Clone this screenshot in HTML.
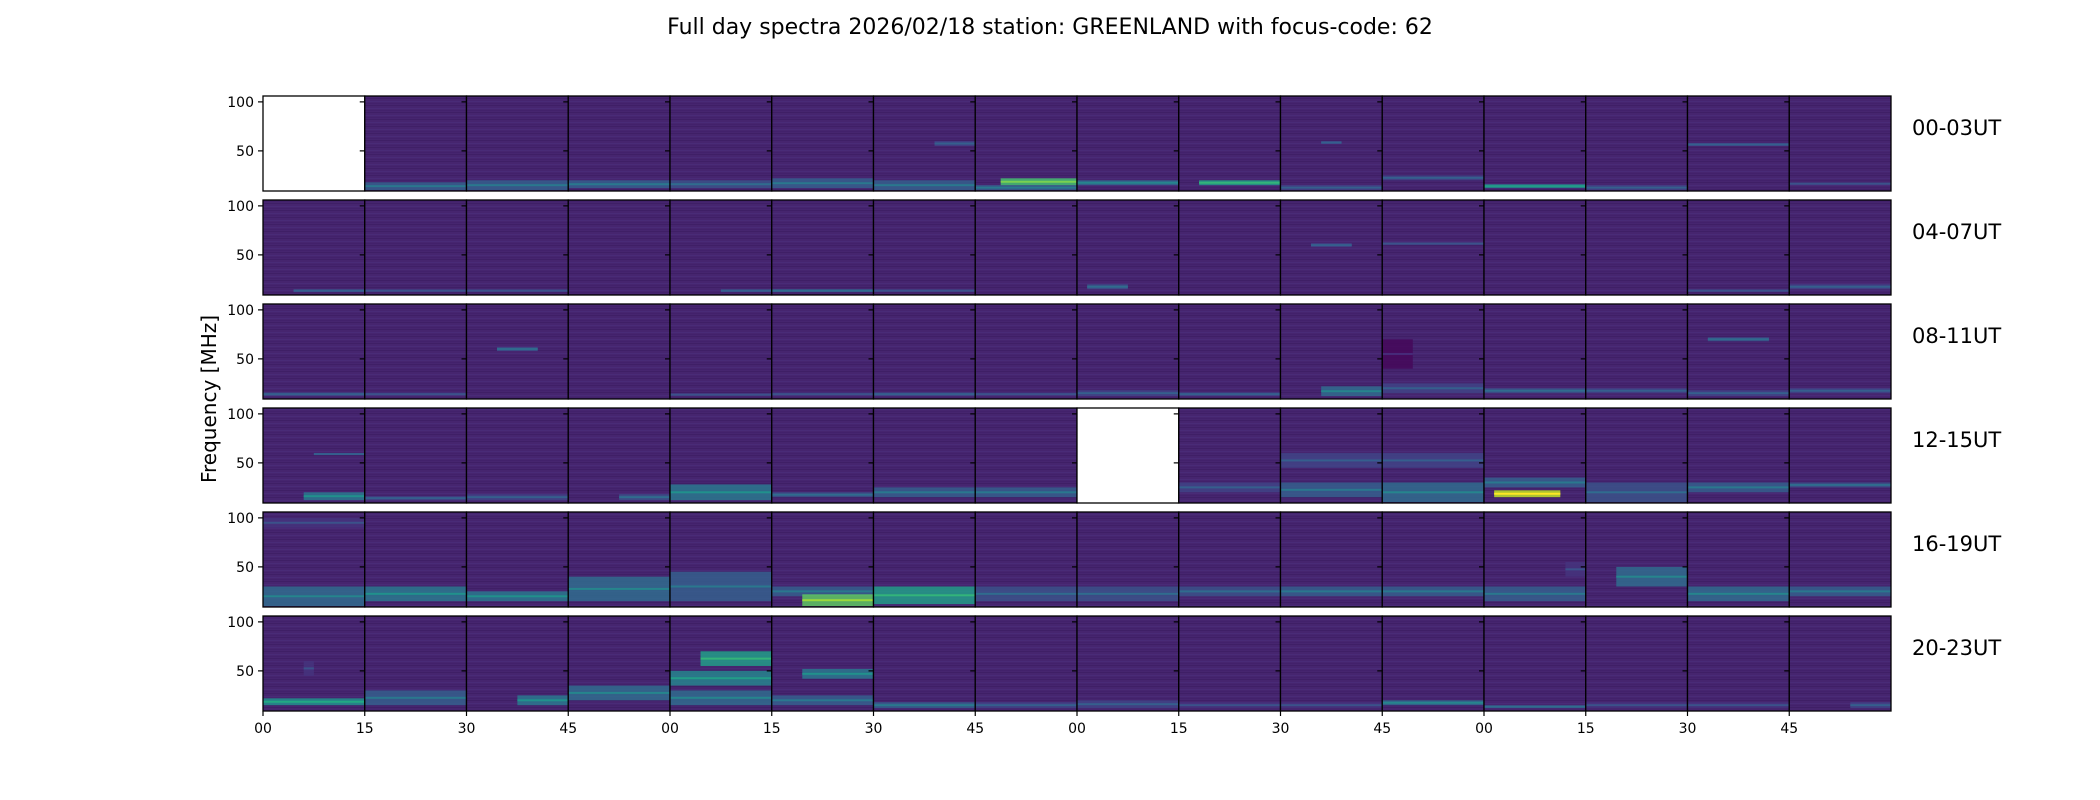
<!DOCTYPE html>
<html><head><meta charset="utf-8">
<style>
html,body{margin:0;padding:0;background:#fff;}
svg{display:block;font-family:"DejaVu Sans","Liberation Sans",sans-serif;}
</style></head>
<body>
<svg id="chart" width="2100" height="800" viewBox="0 0 2100 800" xmlns="http://www.w3.org/2000/svg">
<defs>
<pattern id="stripes" width="101.75" height="7" patternUnits="userSpaceOnUse">
<rect x="0" y="0" width="101.75" height="1" fill="#2a0a4a" opacity="0.25"/>
<rect x="0" y="3" width="101.75" height="1" fill="#5a4a9a" opacity="0.18"/>
<rect x="0" y="5" width="101.75" height="1" fill="#30105a" opacity="0.2"/>
</pattern>
</defs>
<text x="1050" y="34" text-anchor="middle" font-size="22" fill="#000">Full day spectra 2026/02/18 station: GREENLAND with focus-code: 62</text>
<text transform="translate(216,399) rotate(-90)" text-anchor="middle" font-size="20" fill="#000">Frequency [MHz]</text>
<g id="panels"></g>
</svg>
<script>
const rowLabels = ["00-03UT","04-07UT","08-11UT","12-15UT","16-19UT","20-23UT"];
const xTickLabels = ["00","15","30","45","00","15","30","45","00","15","30","45","00","15","30","45"];
const yTickValues = [100, 50];
const blankPanels = [0, 56];
// bands per panel: [freqLow, freqHigh, level, tStart, tEnd]
const row0Bands = [
 [], [[10,18,.3,0,1]], [[10,20,.3,0,1]], [[12,20,.3,0,1]], [[12,20,.25,0,1]], [[12,22,.3,0,1]],
 [[10,20,.3,0,1],[55,60,.2,.6,1]], [[10,15,.3,0,1],[15,22,.7,.25,1]], [[15,20,.35,0,1]], [[15,20,.55,.2,1]],
 [[10,15,.2,0,1],[57,60,.2,.4,.6]], [[20,25,.2,0,1]], [[12,16,.45,0,1]], [[10,15,.2,0,1]], [[55,58,.2,0,1]], [[15,18,.15,0,1]]
];
const row1Bands = [
 [[12,15,.2,.3,1]], [[12,15,.15,0,1]], [[12,15,.15,0,1]], [], [[12,15,.2,.5,1]], [[12,15,.25,0,1]],
 [[12,15,.15,0,1]], [], [[15,20,.25,.1,.5]], [], [[58,62,.2,.3,.7]], [[60,63,.15,0,1]], [], [], [[12,15,.15,0,1]], [[15,20,.2,0,1]]
];
const row2Bands = [
 [[12,16,.2,0,1]], [[12,16,.15,0,1]], [[58,62,.25,.3,.7]], [], [[12,15,.15,0,1]], [[12,16,.15,0,1]],
 [[12,16,.2,0,1]], [[12,16,.15,0,1]], [[12,18,.2,0,1]], [[12,16,.2,0,1]], [[12,22,.35,.4,1]], [[40,70,.02,0,.3],[15,25,.2,0,1]],
 [[15,20,.25,0,1]], [[15,20,.2,0,1]], [[68,72,.25,.2,.8],[12,18,.2,0,1]], [[15,20,.2,0,1]]
];
const row3Bands = [
 [[12,20,.4,.4,1],[58,60,.2,.5,1]], [[12,16,.2,0,1]], [[12,18,.2,0,1]], [[12,18,.25,.5,1]], [[12,28,.4,0,1]], [[15,20,.25,0,1]],
 [[15,25,.3,0,1]], [[15,25,.3,0,1]], [], [[20,30,.2,0,1]], [[15,30,.3,0,1],[45,60,.2,0,1]], [[10,30,.35,0,1],[45,60,.2,0,1]],
 [[25,35,.3,0,1],[15,22,.9,.1,.75]], [[10,30,.25,0,1]], [[20,30,.3,0,1]], [[25,30,.25,0,1]]
];
const row4Bands = [
 [[10,30,.35,0,1],[90,100,.15,0,1]], [[15,30,.4,0,1]], [[15,25,.4,0,1]], [[15,40,.35,0,1]], [[15,45,.3,0,1]], [[20,30,.3,0,1],[10,22,.75,.3,1]],
 [[12,30,.55,0,1]], [[15,30,.25,0,1]], [[15,30,.25,0,1]], [[20,30,.25,0,1]], [[20,30,.3,0,1]], [[20,30,.3,0,1]],
 [[15,30,.3,0,1],[40,55,.15,.8,1]], [[30,50,.35,.3,1]], [[15,30,.35,0,1]], [[20,30,.3,0,1]]
];
const row5Bands = [
 [[15,22,.5,0,1],[45,60,.15,.4,.5]], [[15,30,.3,0,1]], [[15,25,.4,.5,1]], [[20,35,.35,0,1]], [[15,30,.35,0,1],[35,50,.45,0,1],[55,70,.55,.3,1]], [[15,25,.3,0,1],[42,52,.4,.3,1]],
 [[12,18,.3,0,1]], [[12,18,.2,0,1]], [[12,20,.2,0,1]], [[12,18,.15,0,1]], [[12,18,.15,0,1]], [[15,20,.35,0,1]],
 [[12,15,.25,0,1]], [[12,18,.15,0,1]], [[12,18,.15,0,1]], [[12,18,.2,.6,1]]
];
const allBands = [row0Bands,row1Bands,row2Bands,row3Bands,row4Bands,row5Bands];

const NS = "http://www.w3.org/2000/svg";
const X0 = 263, PW = 101.75, Y0 = 96, RP = 104, PH = 95, FMAX = 106, FMIN = 9.06;
function fy(row, f){ return Y0 + row*RP + (FMAX - f) / (FMAX - FMIN) * PH; }
function tx(col, t){ return X0 + col*PW + t*PW; }
const vir = [[68,1,84],[72,36,117],[65,68,135],[53,95,141],[42,120,142],[33,145,140],[34,168,132],[68,191,112],[122,209,81],[189,223,38],[253,231,37]];
function viridis(v){ v=Math.max(0,Math.min(1,v))*10; const i=Math.min(9,Math.floor(v)), f=v-i;
 const a=vir[i], b=vir[i+1]; return "rgb("+a.map((c,k)=>Math.round(c+(b[k]-c)*f)).join(",")+")"; }
function mk(tag, attrs){ const e=document.createElementNS(NS,tag); for(const k in attrs) e.setAttribute(k, attrs[k]); return e; }

const g = document.getElementById("panels");
for (let r=0;r<6;r++){
 for (let c=0;c<16;c++){
  const idx=r*16+c;
  const pg = mk("g",{});
  
  
  const blank = blankPanels.includes(idx);
  const bg = mk("rect",{x:tx(c,0),y:Y0+r*RP,width:PW,height:PH,fill:blank?"#fff":"#46256f"});
  
  
  pg.appendChild(bg);
  if(!blank){
   const tex = mk("rect",{x:tx(c,0),y:Y0+r*RP,width:PW,height:PH,fill:"url(#stripes)"});
   
   
   pg.appendChild(tex);
   for (const b of allBands[r][c]){
    const [fl,fh,lv,t0,t1]=b;
    const yA=fy(r,fh), yB=fy(r,fl);
    const band = mk("rect",{x:tx(c,t0),y:yA,width:(t1-t0)*PW,height:yB-yA,fill:viridis(lv),opacity:0.85});
    
    
    pg.appendChild(band);
    const core = mk("rect",{x:tx(c,t0),y:(yA+yB)/2-1,width:(t1-t0)*PW,height:2,fill:viridis(lv+0.1)});
    
    
    pg.appendChild(core);
   }
  }
  const frame = mk("rect",{x:tx(c,0),y:Y0+r*RP,width:PW,height:PH,fill:"none",stroke:"#000","stroke-width":1.3});
  
  
  pg.appendChild(frame);
  for (const v of yTickValues){
   const yy=fy(r,v);
   const tk = mk("line",{x1:tx(c,0)-5,x2:tx(c,0),y1:yy,y2:yy,stroke:"#000","stroke-width":1.2});
   
   
   pg.appendChild(tk);
   if(c===0){
    const tl = mk("text",{x:tx(c,0)-9,y:yy+5,"text-anchor":"end","font-size":14,fill:"#000"});
    tl.textContent=String(v);
    
    
    pg.appendChild(tl);
   }
  }
  g.appendChild(pg);
 }
 const rl = mk("text",{x:1912,y:Y0+r*RP+39,"font-size":21,fill:"#000"});
 rl.textContent=rowLabels[r];
 
 
 g.appendChild(rl);
}
for (let c=0;c<xTickLabels.length;c++){
 const xx=tx(c,0), yb=Y0+5*RP+PH;
 const tk = mk("line",{x1:xx,x2:xx,y1:yb,y2:yb+5,stroke:"#000","stroke-width":1.2});
 
 
 g.appendChild(tk);
 const tl = mk("text",{x:xx,y:yb+22,"text-anchor":"middle","font-size":14,fill:"#000"});
 tl.textContent=xTickLabels[c];
 
 
 g.appendChild(tl);
}
</script>
</body></html>
